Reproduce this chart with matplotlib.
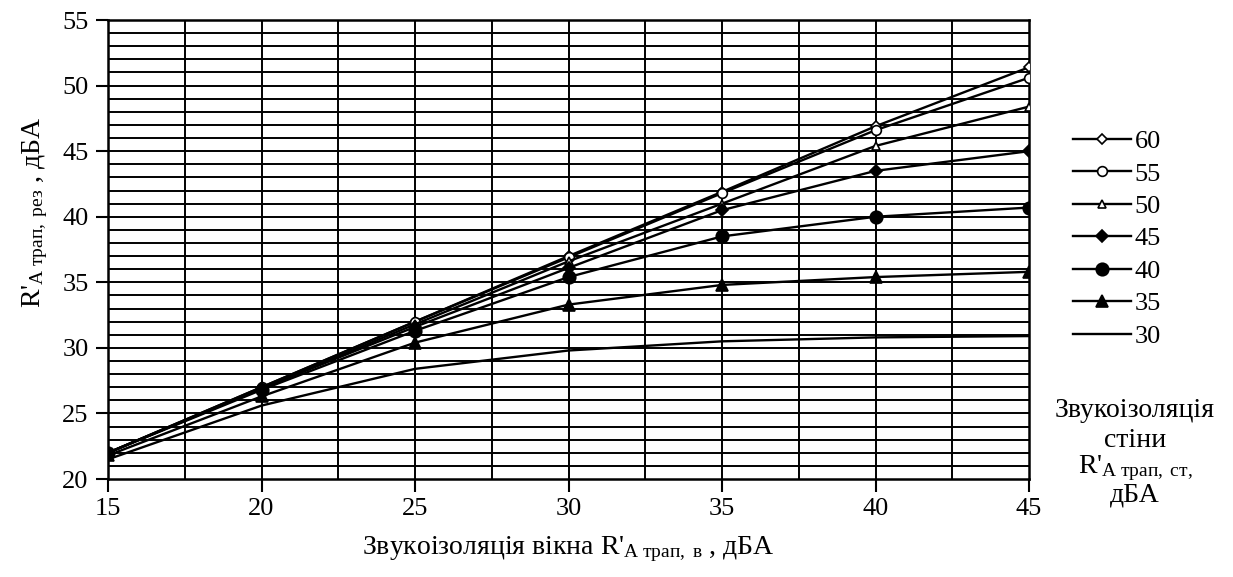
import matplotlib
matplotlib.use("Agg")
import matplotlib.pyplot as plt
import numpy as np

plt.rcParams['font.family'] = ['Liberation Serif', 'DejaVu Serif']
plt.rcParams['mathtext.fontset'] = 'custom'
plt.rcParams['mathtext.rm'] = 'Liberation Serif'
plt.rcParams['mathtext.it'] = 'Liberation Serif:italic'

# window sound insulation, dBA
window_r = [15, 20, 25, 30, 35, 40, 45]

# resulting insulation for each wall insulation value
wall_60 = [22.0, 27.0, 32.0, 37.0, 41.9, 46.9, 51.4]
wall_55 = [22.0, 27.0, 32.0, 36.9, 41.8, 46.6, 50.6]
wall_50 = [22.0, 26.9, 31.8, 36.6, 41.0, 45.4, 48.4]
wall_45 = [22.0, 26.9, 31.6, 36.1, 40.5, 43.5, 45.0]
wall_40 = [22.0, 26.8, 31.3, 35.4, 38.5, 40.0, 40.7]
wall_35 = [21.8, 26.3, 30.4, 33.3, 34.8, 35.4, 35.8]
wall_30 = [21.5, 25.6, 28.4, 29.8, 30.5, 30.8, 30.9]

labels = ['60', '55', '50', '45', '40', '35', '30']
series = [wall_60, wall_55, wall_50, wall_45, wall_40, wall_35, wall_30]

# marker, filled?, size
styles = [('D', False, 5), ('o', False, 7), ('^', False, 6),
          ('D', True, 6), ('o', True, 9), ('^', True, 8), ('', True, 0)]

fig = plt.figure(figsize=(12.33, 5.77), dpi=100, facecolor='white')
ax = fig.add_axes([0.0876, 0.1698, 0.747, 0.7955])

# grid: every 1 dBA horizontally, every 2.5 dBA vertically
for yv in np.arange(21, 55, 1):
    ax.axhline(yv, color='black', lw=1.4, zorder=1)
for xv in np.arange(17.5, 45, 2.5):
    ax.axvline(xv, color='black', lw=1.4, zorder=1)

for lab, ys, (mk, filled, ms) in zip(labels, series, styles):
    ax.plot(window_r, ys, color='black', lw=1.7, marker=mk if mk else None,
            markersize=ms, markerfacecolor='black' if filled else 'white',
            markeredgecolor='black', markeredgewidth=1.2, label=lab, zorder=3)

ax.set_xlim(15, 45)
ax.set_ylim(20, 55)
ax.set_xticks(np.arange(15, 46, 5))
ax.set_yticks(np.arange(20, 56, 5))
ax.tick_params(axis='both', direction='out', length=9, width=1.5,
               labelsize=19, colors='black', pad=5)
for s in ax.spines.values():
    s.set_linewidth(1.8)
    s.set_color('black')

ax.set_xlabel(r"Звукоізоляція вікна R'$_{\mathrm{А\ трап,\ в}}$ , дБА",
              fontsize=20, labelpad=10)
ax.set_ylabel(r"R'$_{\mathrm{А\ трап,\ рез}}$ , дБА", fontsize=20)
ax.yaxis.set_label_coords(-0.063, 0.58)

leg = ax.legend(loc='upper left', bbox_to_anchor=(1.033, 0.79), frameon=False,
                fontsize=19, handlelength=2.2, handletextpad=0.15,
                labelspacing=0.34, borderpad=0)

fig.text(0.9205, 0.289, "Звукоізоляція", ha='center', va='center', fontsize=20)
fig.text(0.9205, 0.237, "стіни", ha='center', va='center', fontsize=20)
fig.text(0.9205, 0.189, r"R'$_{\mathrm{А\ трап,\ ст,}}$", ha='center', va='center', fontsize=20)
fig.text(0.9205, 0.142, "дБА", ha='center', va='center', fontsize=20)

fig.savefig('out.png', dpi=100, facecolor='white')
